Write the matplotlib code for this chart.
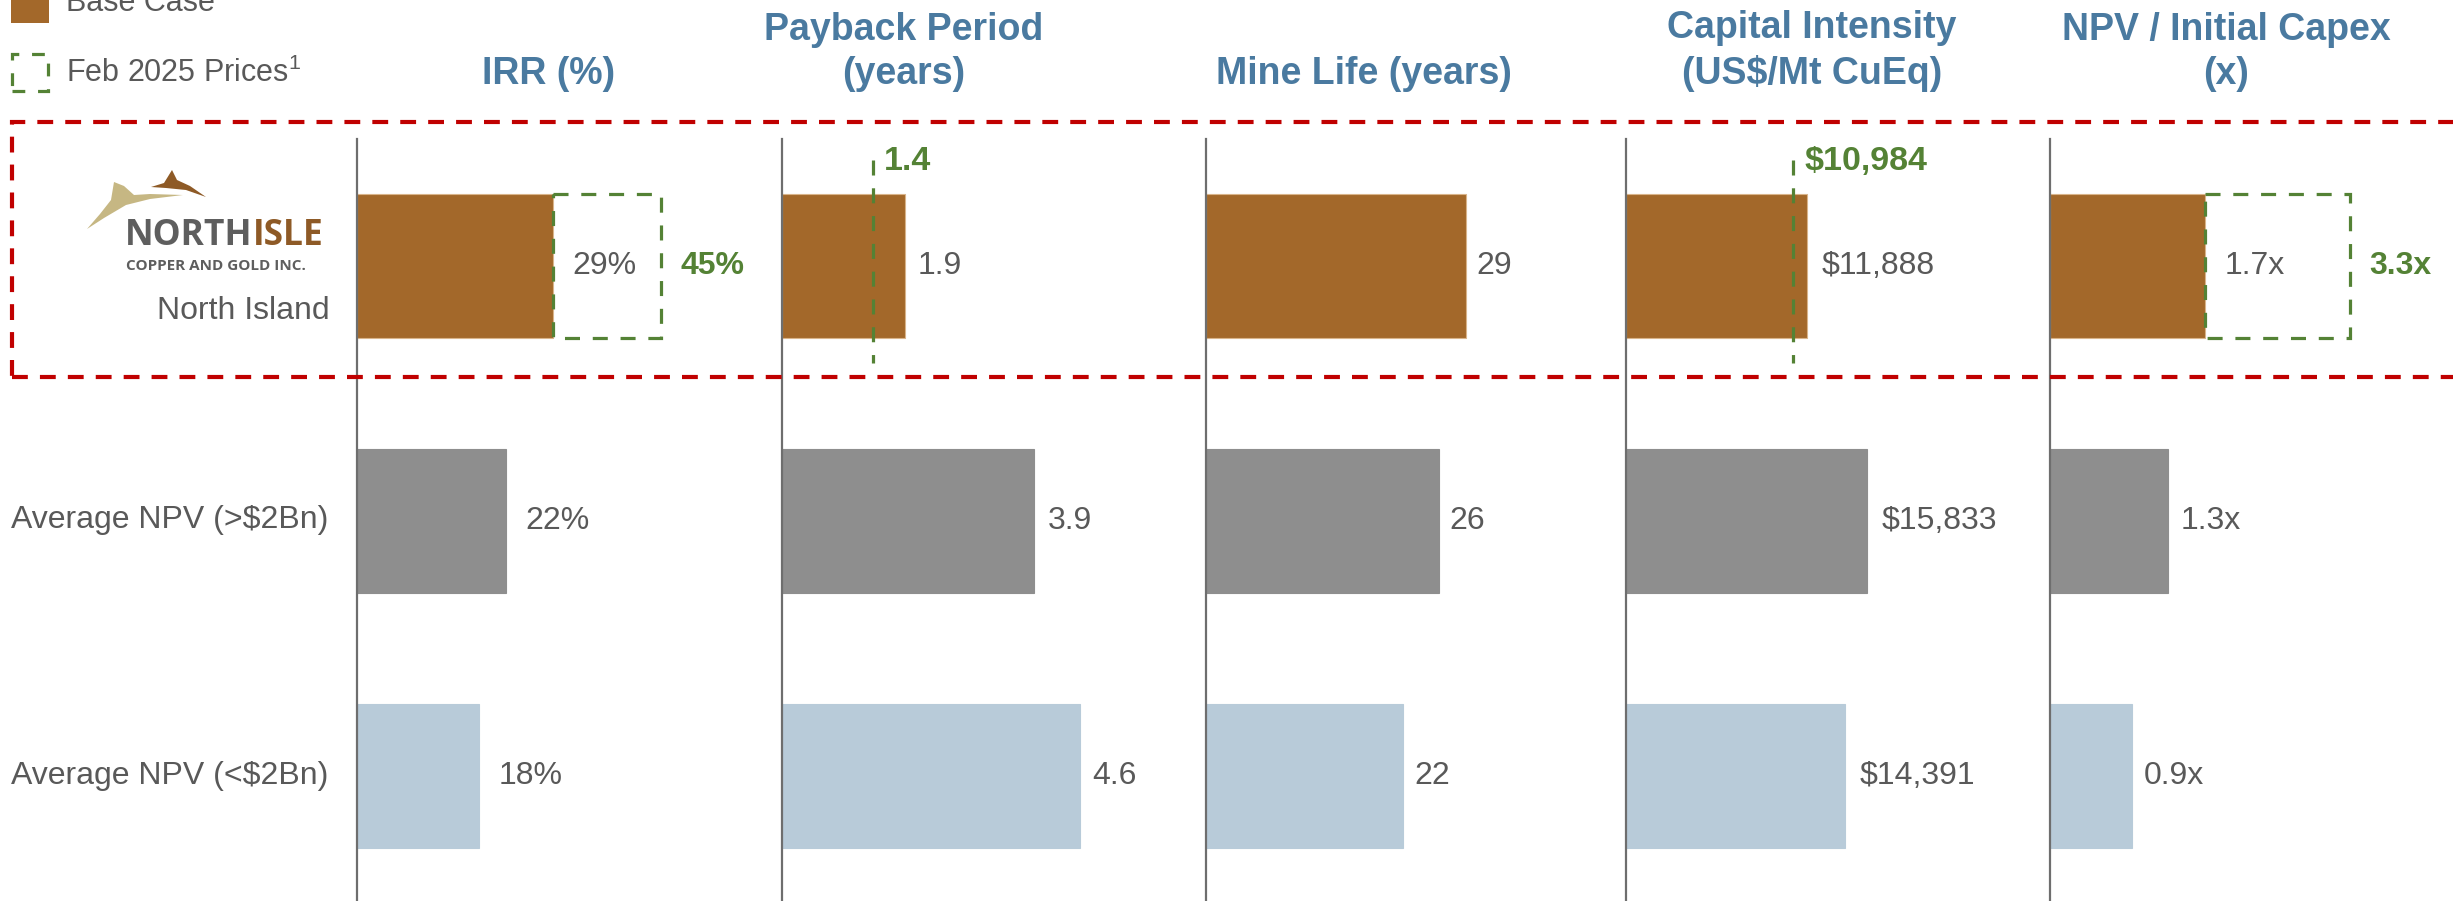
# -*- coding: utf-8 -*-
"""
Peer comparison bar panels (North Island vs average NPV groups).
"""

import matplotlib
matplotlib.use('Agg')
import matplotlib.pyplot as plt
from matplotlib.patches import Rectangle, Polygon


# data
metrics = ['IRR (%)', 'Payback Period\n(years)', 'Mine Life (years)',
           'Capital Intensity\n(US$/Mt CuEq)', 'NPV / Initial Capex\n(x)']
row_labels = ['North Island', 'Average NPV (>$2Bn)', 'Average NPV (<$2Bn)']
north_island = [29, 1.9, 29, 11888, 1.7]
avg_npv_above_2bn = [22, 3.9, 26, 15833, 1.3]
avg_npv_below_2bn = [18, 4.6, 22, 14391, 0.9]
feb_2025_prices = [45, 1.4, None, 10984, 3.3]
label_formats = ['{:.0f}%', '{:.1f}', '{:.0f}', '${:,.0f}', '{:.1f}x']

# colours
BROWN = '#A3682A'
GREY_BAR = '#8E8E8E'
BLUE_BAR = '#B8CBD9'
GREEN = '#548235'
RED = '#C00000'
TITLE_BLUE = '#4A7AA0'
TEXT = '#595959'
AXIS = '#6E6E6E'
GREEN_DASH = (0, (4.7, 4))

plt.rcParams['font.family'] = ['Liberation Sans', 'DejaVu Sans']
plt.rcParams['mathtext.fontset'] = 'custom'
plt.rcParams['mathtext.rm'] = 'Liberation Sans'

W, H = 2453, 901
fig = plt.figure(figsize=(W / 100, H / 100), dpi=100)


def fx(px):
    return px / W


def fy(py):
    return 1 - py / H


# layout (pixels)
panel_left = [357, 782, 1206, 1626, 2050]
px_per_unit = [6.75, 64.7, 8.95, 0.0152, 91.0]
title_center = [549, 904, 1364, 1812, 2226]
panel_width = 400
axes_top, axes_bottom = 139, 901
bar_h = 0.565
label_gap = [20, 13, 11, 15, 12]

rows = [north_island, avg_npv_above_2bn, avg_npv_below_2bn]
bar_colors = [BROWN, GREY_BAR, BLUE_BAR]

for i, metric in enumerate(metrics):
    fig.text(fx(title_center[i]), fy(92), metric, ha='center', va='bottom',
             fontsize=27, fontweight='bold', color=TITLE_BLUE, linespacing=1.3)

    ax = fig.add_axes([fx(panel_left[i]), fy(axes_bottom),
                       fx(panel_width), (axes_bottom - axes_top) / H])
    ax.set_xlim(0, panel_width / px_per_unit[i])
    ax.set_ylim(2.49, -0.498)
    ax.set_xticks([])
    ax.set_yticks([])
    for s in ['top', 'right', 'bottom']:
        ax.spines[s].set_visible(False)
    ax.spines['left'].set_color(AXIS)
    ax.spines['left'].set_linewidth(1.6)
    ax.patch.set_visible(False)

    for r, vals in enumerate(rows):
        v = vals[i]
        ax.barh(r, v, height=bar_h, color=bar_colors[r],
                edgecolor='#D9B48A' if r == 0 else bar_colors[r], linewidth=0.8, zorder=2)
        new = feb_2025_prices[i] if r == 0 else None
        gap = label_gap[i]
        if new is not None and new > v:
            gap = 20
        ax.annotate(label_formats[i].format(v), (v, r), xytext=(gap * 0.72, 0),
                    textcoords='offset points', va='center', ha='left',
                    fontsize=23, color=TEXT)

    # Feb 2025 prices
    new = feb_2025_prices[i]
    if new is None:
        continue
    base = north_island[i]
    if new > base:
        ax.add_patch(Rectangle((base, -bar_h / 2), new - base, bar_h, fill=False,
                               edgecolor=GREEN, linewidth=2.3, linestyle=GREEN_DASH, zorder=3))
        ax.annotate(label_formats[i].format(new), (new, 0), xytext=(14, 0),
                    textcoords='offset points', va='center', ha='left',
                    fontsize=23, color=GREEN, fontweight='bold')
    else:
        ax.vlines(new, -0.415, 0.38, colors=GREEN, linewidth=2.3,
                  linestyles=GREEN_DASH, zorder=3)
        ax.annotate(label_formats[i].format(new), (new, -0.41), xytext=(8, 0),
                    textcoords='offset points', va='center', ha='left',
                    fontsize=24.5, color=GREEN, fontweight='bold')

# row labels
fig.text(fx(330), fy(311), row_labels[0], ha='right', va='center', fontsize=23, color=TEXT)
fig.text(fx(11), fy(520), row_labels[1], ha='left', va='center', fontsize=23, color=TEXT)
fig.text(fx(11), fy(776), row_labels[2], ha='left', va='center', fontsize=23, color=TEXT)

# logo
tan = [(87, 229), (100, 214), (111, 200), (114, 182), (124, 186), (134, 195),
       (150, 194), (183, 195), (150, 199), (126, 205), (104, 218)]
brown = [(151, 187), (164, 183), (172, 170), (177, 180), (190, 186), (206, 197),
         (186, 190), (166, 188)]
fig.add_artist(Polygon([(fx(a), fy(b)) for a, b in tan], closed=True,
                       transform=fig.transFigure, facecolor='#C6B783', edgecolor='none'))
fig.add_artist(Polygon([(fx(a), fy(b)) for a, b in brown], closed=True,
                       transform=fig.transFigure, facecolor='#8E5A26', edgecolor='none'))
t = fig.text(fx(125), fy(236), 'NORTH', ha='left', va='center', fontsize=25.5,
             fontweight='bold', color='#5E5E5E', family='Open Sans')
fig.canvas.draw()
bb = t.get_window_extent()
fig.text(bb.x1 / W, fy(236), 'ISLE', ha='left', va='center', fontsize=25.5,
         fontweight='bold', color='#8E5A26', family='Open Sans')
fig.text(fx(126), fy(266), 'COPPER AND GOLD INC.', ha='left', va='center',
         fontsize=11, fontweight='bold', color='#5E5E5E', family='Open Sans')

# highlight box
fig.add_artist(Rectangle((fx(12), fy(377)), fx(2470 - 12), (377 - 122) / H,
                         transform=fig.transFigure, fill=False, edgecolor=RED,
                         linewidth=3, linestyle=(0, (3.8, 2.9))))

# legend
fig.add_artist(Rectangle((fx(11), fy(23)), fx(38), 38 / H, transform=fig.transFigure,
                         facecolor=BROWN, edgecolor='none'))
fig.text(fx(66), fy(3), 'Base Case', ha='left', va='center', fontsize=22, color=TEXT)
fig.add_artist(Rectangle((fx(12), fy(91)), fx(36), 37 / H, transform=fig.transFigure,
                         fill=False, edgecolor=GREEN, linewidth=2.3, linestyle=(0, (4, 4))))
fig.text(fx(66), fy(73), 'Feb 2025 Prices$^{1}$', ha='left', va='center', fontsize=22, color=TEXT)

fig.savefig('out.png', dpi=100)
